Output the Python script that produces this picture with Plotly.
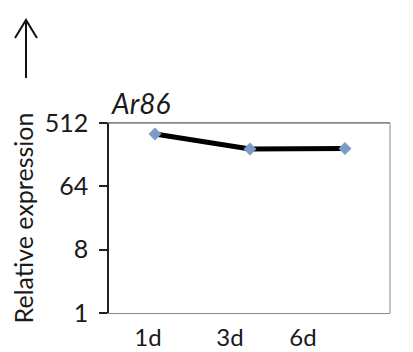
import plotly.graph_objects as go

days = ["1d", "3d", "6d"]
expression = [357, 218, 222]
y_ticks = [1, 8, 64, 512]
gene = "Ar86"

point_x = [0, 1, 2]
label_x = [-0.073, 0.79, 1.558]

fig = go.Figure()
fig.add_trace(go.Scatter(
    x=point_x, y=expression, mode="lines+markers",
    line=dict(color="black", width=5),
    marker=dict(symbol="diamond", size=10, color="#7a9cc6", line=dict(width=0)),
    showlegend=False, cliponaxis=False,
))

FONT = "Lato, 'Open Sans', sans-serif"
ax_x, tip_y, base_y, arm_dx, arm_y = -0.2954, 1.542, 1.237, 0.0391, 1.447
arrow_path = (f"M {ax_x},{base_y} L {ax_x},{tip_y} "
              f"M {ax_x-arm_dx},{arm_y} L {ax_x},{tip_y} L {ax_x+arm_dx},{arm_y}")

fig.update_layout(
    width=405, height=344,
    margin=dict(l=101, r=23, t=115, b=39),
    plot_bgcolor="white", paper_bgcolor="white",
    font=dict(family=FONT, color="#1a1a1a"),
    xaxis=dict(
        range=[-0.484, 2.474], tickmode="array", tickvals=label_x, ticktext=days,
        showgrid=False, zeroline=False, showline=True, linecolor="#888888",
        linewidth=1, mirror=True, ticks="", tickfont=dict(size=24),
        ticklabelstandoff=3, automargin=False,
    ),
    yaxis=dict(
        type="log", range=[0, 2.70927], tickmode="array", tickvals=y_ticks,
        ticktext=[str(v) for v in y_ticks],
        showgrid=False, zeroline=False, showline=True, linecolor="#222222",
        linewidth=1.5, ticks="outside", ticklen=8, tickwidth=1.5, tickcolor="#222222",
        tickfont=dict(size=25), ticklabelstandoff=6, automargin=False,
        title=dict(text="Relative expression", font=dict(size=25), standoff=4),
    ),
    shapes=[dict(type="line", xref="paper", yref="paper", x0=1, x1=1, y0=0, y1=1,
                 line=dict(color="#888888", width=1)),
            dict(type="line", xref="paper", yref="paper", x0=0, x1=1, y0=1, y1=1,
                 line=dict(color="#888888", width=1.5)),
            dict(type="path", xref="paper", yref="paper", path=arrow_path,
                 line=dict(color="#111111", width=2))],
    annotations=[
        dict(text="<i>" + gene + "</i>", xref="paper", yref="paper", x=0.0, y=1.0,
             xanchor="left", yanchor="bottom", yshift=1, showarrow=False,
             font=dict(size=28, family=FONT, color="#1a1a1a")),
    ],
)
fig.write_html("out.html")
